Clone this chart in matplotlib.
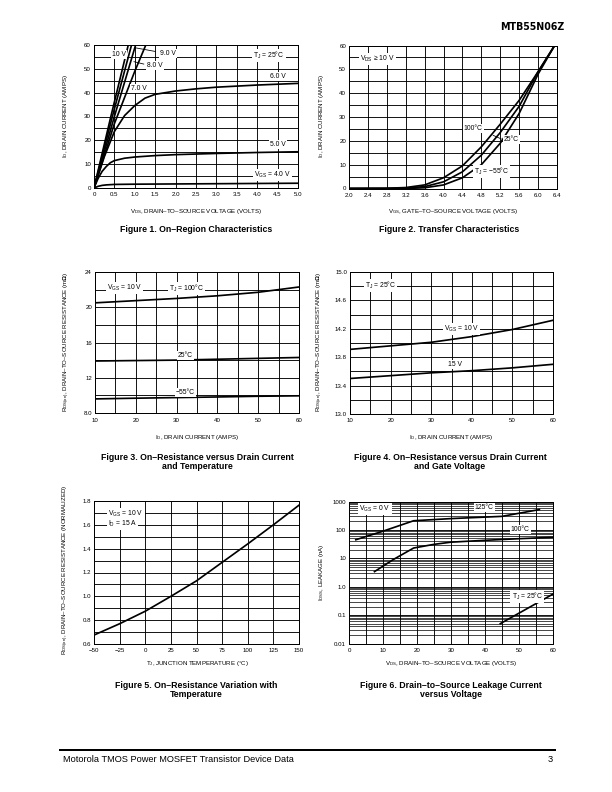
import matplotlib
matplotlib.use('Agg')
import matplotlib.pyplot as plt
from matplotlib.lines import Line2D

plt.rcParams['font.family'] = ['Liberation Sans', 'DejaVu Sans']
plt.rcParams['mathtext.fontset'] = 'custom'
plt.rcParams['mathtext.rm'] = 'Liberation Sans'
plt.rcParams['mathtext.it'] = 'Liberation Sans:italic'
plt.rcParams['mathtext.bf'] = 'Liberation Sans:bold'

# ---------------- DATA ----------------
# Figure 1: On-region characteristics (VDS volts -> ID amps)
f1_vds_4 = [0, 0.1, 0.2, 0.3, 0.5, 1.0, 2.0, 3.0, 4.0, 5.0]
f1_id_4 = [0, 0.7, 1.1, 1.3, 1.5, 1.6, 1.7, 1.8, 1.9, 2.0]
f1_vds_5 = [0, 0.1, 0.2, 0.3, 0.4, 0.5, 0.75, 1.0, 1.5, 2.0, 3.0, 4.0, 5.0]
f1_id_5 = [0, 4.0, 7.0, 9.0, 10.6, 11.5, 12.5, 13.0, 13.6, 14.0, 14.5, 14.9, 15.2]
f1_vds_6 = [0, 0.25, 0.5, 0.75, 1.0, 1.25, 1.5, 2.0, 2.5, 3.0, 4.0, 5.0]
f1_id_6 = [0, 13.0, 23.7, 30.4, 34.6, 37.7, 39.3, 40.7, 41.6, 42.3, 43.2, 43.9]
f1_vds_7 = [0, 0.5, 1.0, 1.27]
f1_id_7 = [0, 27.0, 49.0, 60.0]
f1_vds_8 = [0, 0.5, 1.02]
f1_id_8 = [0, 30.0, 60.0]
f1_vds_9 = [0, 0.45, 0.92]
f1_id_9 = [0, 30.0, 60.0]
f1_vds_10 = [0, 0.42, 0.84]
f1_id_10 = [0, 30.5, 60.0]

# Figure 2: Transfer characteristics (VGS volts -> ID amps)
f2_vgs = [2.0, 2.8, 3.2, 3.6, 4.0, 4.4, 4.8, 5.2, 5.6, 6.0, 6.35]
f2_id_100 = [0, 0.1, 0.4, 1.5, 4.5, 9.5, 17.5, 27.0, 37.0, 49.0, 60.0]
f2_id_25 = [0, 0, 0.2, 0.8, 2.8, 7.0, 14.0, 23.5, 34.5, 49.0, 60.0]
f2_id_m55 = [0, 0, 0, 0.3, 1.5, 4.5, 10.0, 19.0, 31.5, 48.0, 60.0]

# Figure 3: RDS(on) vs ID and temperature (mOhm)
f3_id = [10, 20, 30, 40, 50, 60]
f3_r_100 = [20.5, 20.75, 21.0, 21.3, 21.7, 22.3]
f3_r_25 = [13.9, 13.95, 14.0, 14.1, 14.2, 14.3]
f3_r_m55 = [9.6, 9.68, 9.75, 9.82, 9.9, 9.95]

# Figure 4: RDS(on) vs ID and gate voltage (mOhm)
f4_id = [10, 20, 30, 40, 50, 60]
f4_r_10v = [13.91, 13.96, 14.01, 14.09, 14.19, 14.32]
f4_r_15v = [13.50, 13.54, 13.58, 13.61, 13.65, 13.70]

# Figure 5: normalized RDS(on) vs junction temperature
f5_tj = [-50, -25, 0, 25, 50, 75, 100, 125, 150]
f5_r = [0.675, 0.77, 0.875, 1.0, 1.13, 1.285, 1.44, 1.60, 1.765]

# Figure 6: IDSS leakage (nA) vs VDS
f6_vds_125 = [2, 10, 19, 30, 45, 56]
f6_i_125 = [45, 90, 210, 250, 300, 520]
f6_vds_100 = [7.5, 13, 19, 25, 30, 40, 50, 60]
f6_i_100 = [3.4, 9.0, 23, 31, 37, 43, 49, 55]
f6_vds_25 = [44.5, 60]
f6_i_25 = [0.05, 0.55]

# Tick labels
f1_xticks = [0, 0.5, 1.0, 1.5, 2.0, 2.5, 3.0, 3.5, 4.0, 4.5, 5.0]
f1_xlabels = ['0', '0.5', '1.0', '1.5', '2.0', '2.5', '3.0', '3.5', '4.0', '4.5', '5.0']
f1_yticks = [0, 10, 20, 30, 40, 50, 60]
f2_xticks = [2.0, 2.4, 2.8, 3.2, 3.6, 4.0, 4.4, 4.8, 5.2, 5.6, 6.0, 6.4]
f2_xlabels = ['2.0', '2.4', '2.8', '3.2', '3.6', '4.0', '4.4', '4.8', '5.2', '5.6', '6.0', '6.4']
f3_xticks = [10, 20, 30, 40, 50, 60]
f3_yticks = [8, 12, 16, 20, 24]
f3_ylabels = ['8.0', '12', '16', '20', '24']
f4_yticks = [13.0, 13.4, 13.8, 14.2, 14.6, 15.0]
f4_ylabels = ['13.0', '13.4', '13.8', '14.2', '14.6', '15.0']
f5_xticks = [-50, -25, 0, 25, 50, 75, 100, 125, 150]
f5_xlabels = ['\u221250', '\u221225', '0', '25', '50', '75', '100', '125', '150']
f5_yticks = [0.6, 0.8, 1.0, 1.2, 1.4, 1.6, 1.8]
f5_ylabels = ['0.6', '0.8', '1.0', '1.2', '1.4', '1.6', '1.8']
f6_xticks = [0, 10, 20, 30, 40, 50, 60]
f6_yticks = [0.01, 0.1, 1, 10, 100, 1000]
f6_ylabels = ['0.01', '0.1', '1.0', '10', '100', '1000']

# ---------------- LAYOUT ----------------
W, H = 612, 792
fig = plt.figure(figsize=(W / 72, H / 72), dpi=72)
TFS = 6.1   # tick font size
LFS = 6.1   # axis label font size
AFS = 6.8   # annotation font size
CFS = 8.8   # caption size
LW = 1.7
DEG = '\u00b0'
DASH = '\u2013'
MINUS = '\u2212'


def sub(base, s):
    return base + '$_{\\mathregular{' + s + '}}$'


def px(x, y):
    return x / W, 1 - y / H


def make_ax(x0, y0, x1, y1):
    return fig.add_axes([x0 / W, 1 - y1 / H, (x1 - x0) / W, (y1 - y0) / H])


def style(ax, xlim, ylim, xt, xl, yt, yl, xg, yg, log=False):
    ax.set_xlim(*xlim)
    if log:
        ax.set_yscale('log')
    ax.set_ylim(*ylim)
    ax.set_xticks(xt)
    ax.set_xticklabels(xl)
    ax.set_yticks(yt)
    ax.set_yticklabels(yl)
    ax.set_xticks(xg, minor=True)
    ax.set_yticks(yg, minor=True)
    ax.tick_params(which='both', length=0, labelsize=TFS)
    ax.tick_params(axis='x', pad=4.5)
    ax.tick_params(axis='y', pad=3)
    ax.yaxis.set_minor_formatter(plt.NullFormatter())
    ax.grid(True, which='both', color='black', lw=0.9)
    ax.set_axisbelow(True)
    for s in ax.spines.values():
        s.set_linewidth(1.0)


def lab(ax, x, y, s, ha='center'):
    ax.text(x, y, s, fontsize=AFS, ha=ha, va='center', zorder=5,
            bbox=dict(fc='white', ec='none', pad=1.0))


def frange(a, b, n):
    return [a + (b - a) * i / n for i in range(n + 1)]


VDS_LABEL = sub('V', 'DS') + ', DRAIN' + DASH + 'TO' + DASH + 'SOURCE VOLTAGE (VOLTS)'
ID_LABEL = sub('I', 'D') + ', DRAIN CURRENT (AMPS)'
RDS_LABEL = sub('R', 'DS(on)') + ', DRAIN' + DASH + 'TO' + DASH + 'SOURCE RESISTANCE (m$\\mathbf{\\Omega}$)'

# ---------- Figure 1 ----------
ax1 = make_ax(94, 45, 298, 188)
style(ax1, (0, 5), (0, 60), f1_xticks, f1_xlabels, f1_yticks,
      [str(v) for v in f1_yticks], frange(0, 5, 10), frange(0, 60, 12))
for xs, ys in [(f1_vds_4, f1_id_4), (f1_vds_5, f1_id_5), (f1_vds_6, f1_id_6),
               (f1_vds_7, f1_id_7), (f1_vds_8, f1_id_8), (f1_vds_9, f1_id_9),
               (f1_vds_10, f1_id_10)]:
    ax1.plot(xs, ys, color='black', lw=LW, zorder=4, clip_on=True)
lab(ax1, 0.62, 56.2, '10 V')
lab(ax1, 1.82, 56.5, '9.0 V')
lab(ax1, 1.50, 51.3, '8.0 V')
lab(ax1, 1.10, 41.6, '7.0 V')
lab(ax1, 4.51, 46.7, '6.0 V')
lab(ax1, 4.51, 18.1, '5.0 V')
lab(ax1, 4.37, 5.6, sub('V', 'GS') + ' = 4.0 V')
lab(ax1, 4.29, 55.5, sub('T', 'J') + ' = 25' + DEG + 'C')
ax1.add_line(Line2D([1.5, 1.02], [57.3, 58.8], color='black', lw=0.8, zorder=5))
ax1.add_line(Line2D([1.22, 0.98], [52.0, 53.0], color='black', lw=0.8, zorder=5))
fig.text(*px(196, 211), VDS_LABEL, fontsize=LFS, ha='center', va='center')
fig.text(*px(66, 116), ID_LABEL, fontsize=LFS, ha='center', va='center', rotation=90)
fig.text(*px(196, 230), 'Figure 1. On' + DASH + 'Region Characteristics', fontsize=CFS,
         fontweight='bold', ha='center', va='center')

# ---------- Figure 2 ----------
ax2 = make_ax(349, 45.5, 557, 188.5)
style(ax2, (2.0, 6.4), (0, 60), f2_xticks, f2_xlabels, f1_yticks,
      [str(v) for v in f1_yticks], frange(2.0, 6.4, 11), frange(0, 60, 12))
for ys in [f2_id_100, f2_id_25, f2_id_m55]:
    ax2.plot(f2_vgs, ys, color='black', lw=LW, zorder=4)
lab(ax2, 2.60, 54.4, sub('V', 'DS') + ' \u2265 10 V')
lab(ax2, 4.63, 25.3, '100' + DEG + 'C')
lab(ax2, 5.44, 20.4, '25' + DEG + 'C')
lab(ax2, 5.02, 7.1, sub('T', 'J') + ' = ' + MINUS + '55' + DEG + 'C')
ax2.add_line(Line2D([5.22, 5.05], [20.8, 22.3], color='black', lw=0.8, zorder=5))
fig.text(*px(453, 211), sub('V', 'GS') + ', GATE' + DASH + 'TO' + DASH + 'SOURCE VOLTAGE (VOLTS)',
         fontsize=LFS, ha='center', va='center')
fig.text(*px(322, 116), ID_LABEL, fontsize=LFS, ha='center', va='center', rotation=90)
fig.text(*px(449, 230), 'Figure 2. Transfer Characteristics', fontsize=CFS,
         fontweight='bold', ha='center', va='center')

# ---------- Figure 3 ----------
ax3 = make_ax(95, 272, 299, 413)
style(ax3, (10, 60), (8, 24), f3_xticks, [str(v) for v in f3_xticks], f3_yticks,
      f3_ylabels, frange(10, 60, 10), frange(8, 24, 8))
for ys in [f3_r_100, f3_r_25, f3_r_m55]:
    ax3.plot(f3_id, ys, color='black', lw=LW, zorder=4)
lab(ax3, 17.2, 22.2, sub('V', 'GS') + ' = 10 V')
lab(ax3, 32.5, 22.1, sub('T', 'J') + ' = 100' + DEG + 'C')
lab(ax3, 32.1, 14.5, '25' + DEG + 'C')
lab(ax3, 32.1, 10.35, MINUS + '55' + DEG + 'C')
fig.text(*px(197, 437), ID_LABEL, fontsize=LFS, ha='center', va='center')
fig.text(*px(67, 342), RDS_LABEL, fontsize=LFS, ha='center', va='center', rotation=90)
fig.text(*px(197, 462), 'Figure 3. On' + DASH + 'Resistance versus Drain Current\nand Temperature',
         fontsize=CFS, fontweight='bold', ha='center', va='center', linespacing=1.05)

# ---------- Figure 4 ----------
ax4 = make_ax(350, 272, 553, 414)
style(ax4, (10, 60), (13.0, 15.0), f3_xticks, [str(v) for v in f3_xticks], f4_yticks,
      f4_ylabels, frange(10, 60, 10), frange(13.0, 15.0, 10))
for ys in [f4_r_10v, f4_r_15v]:
    ax4.plot(f4_id, ys, color='black', lw=LW, zorder=4)
lab(ax4, 17.5, 14.81, sub('T', 'J') + ' = 25' + DEG + 'C')
lab(ax4, 37.4, 14.20, sub('V', 'GS') + ' = 10 V')
lab(ax4, 35.8, 13.70, '15 V')
fig.text(*px(451, 437), ID_LABEL, fontsize=LFS, ha='center', va='center')
fig.text(*px(320, 342), RDS_LABEL, fontsize=LFS, ha='center', va='center', rotation=90)
fig.text(*px(450, 462), 'Figure 4. On' + DASH + 'Resistance versus Drain Current\nand Gate Voltage',
         fontsize=CFS, fontweight='bold', ha='center', va='center', linespacing=1.05)

# ---------- Figure 5 ----------
ax5 = make_ax(94, 501, 299, 644)
style(ax5, (-50, 150), (0.6, 1.8), f5_xticks, f5_xlabels, f5_yticks, f5_ylabels,
      frange(-50, 150, 8), frange(0.6, 1.8, 12))
ax5.plot(f5_tj, f5_r, color='black', lw=LW, zorder=4)
ax5.text(-36, 1.69, sub('V', 'GS') + ' = 10 V', fontsize=AFS, ha='left', va='center',
         zorder=5, bbox=dict(fc='white', ec='none', pad=1.0))
ax5.text(-36, 1.607, sub('I', 'D') + ' = 15 A', fontsize=AFS, ha='left', va='center',
         zorder=5, bbox=dict(fc='white', ec='none', pad=1.0))
fig.text(*px(197, 664), sub('T', 'J') + ', JUNCTION TEMPERATURE (' + DEG + 'C)', fontsize=LFS,
         ha='center', va='center')
fig.text(*px(66, 570), sub('R', 'DS(on)') + ', DRAIN' + DASH + 'TO' + DASH + 'SOURCE RESISTANCE (NORMALIZED)',
         fontsize=LFS, ha='center', va='center', rotation=90)
fig.text(*px(196, 690), 'Figure 5. On' + DASH + 'Resistance Variation with\nTemperature',
         fontsize=CFS, fontweight='bold', ha='center', va='center', linespacing=1.05)

# ---------- Figure 6 ----------
ax6 = make_ax(349, 501.5, 553, 643.5)
f6_minor = [m * 10.0 ** e for e in range(-2, 3) for m in range(1, 10)] + [1000]
style(ax6, (0, 60), (0.01, 1000), f6_xticks, [str(v) for v in f6_xticks], f6_yticks,
      f6_ylabels, frange(0, 60, 12), f6_minor, log=True)
ax6.grid(True, which='minor', axis='y', color='black', lw=0.7)
for xs, ys in [(f6_vds_125, f6_i_125), (f6_vds_100, f6_i_100), (f6_vds_25, f6_i_25)]:
    ax6.plot(xs, ys, color='black', lw=LW, zorder=4)
lab(ax6, 7.7, 550, sub('V', 'GS') + ' = 0 V')
lab(ax6, 39.8, 630, '125' + DEG + 'C')
lab(ax6, 50.4, 100, '100' + DEG + 'C')
lab(ax6, 52.4, 0.45, sub('T', 'J') + ' = 25' + DEG + 'C')
fig.text(*px(451, 664), VDS_LABEL, fontsize=LFS, ha='center', va='center')
fig.text(*px(321, 572), sub('I', 'DSS') + ', LEAKAGE (nA)', fontsize=LFS,
         ha='center', va='center', rotation=90)
fig.text(*px(451, 690), 'Figure 6. Drain' + DASH + 'to' + DASH + 'Source Leakage Current\nversus Voltage',
         fontsize=CFS, fontweight='bold', ha='center', va='center', linespacing=1.05)

# ---------- Header / footer ----------
fig.text(*px(564, 27), 'MTB55N06Z', fontsize=9.5, fontweight='bold', ha='right', va='center',
         family='DejaVu Sans')
fig.add_artist(Line2D([60 / W, 555 / W], [1 - 750 / H, 1 - 750 / H], color='black', lw=2.0))
fig.text(*px(63, 760), 'Motorola TMOS Power MOSFET Transistor Device Data', fontsize=9.2,
         ha='left', va='center')
fig.text(*px(553, 760), '3', fontsize=9.2, ha='right', va='center')

fig.savefig('out.png', dpi=72)
